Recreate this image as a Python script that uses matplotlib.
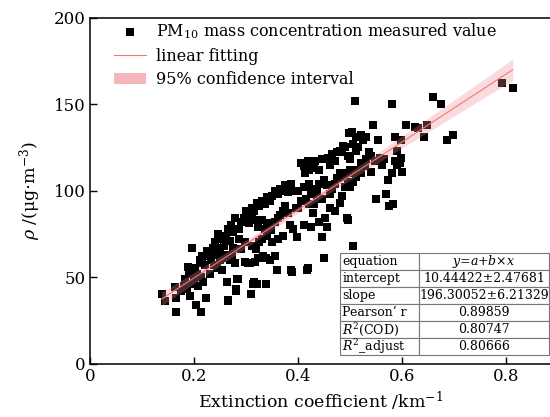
import matplotlib.pyplot as plt
import numpy as np

plt.rcParams['font.family'] = 'DejaVu Serif'
plt.rcParams['mathtext.fontset'] = 'dejavuserif'

# extinction coefficient (km^-1) and PM10 mass concentration (ug/m3)
ext = [0.137, 0.143, 0.164, 0.163, 0.165, 0.174, 0.182, 0.185, 0.191, 0.203, 0.212, 0.222,
       0.195, 0.188, 0.201, 0.21, 0.215, 0.2, 0.207, 0.217, 0.205, 0.212, 0.19, 0.196, 0.22,
       0.225, 0.214, 0.18,
       0.226, 0.236, 0.246, 0.249, 0.252, 0.262, 0.265, 0.28, 0.282, 0.278, 0.274, 0.278,
       0.24, 0.245, 0.255, 0.26, 0.265, 0.27, 0.268, 0.275, 0.285, 0.29, 0.295, 0.3, 0.232,
       0.238, 0.243, 0.23, 0.258, 0.262, 0.268, 0.272, 0.228, 0.234, 0.29, 0.297, 0.285,
       0.256, 0.247, 0.25, 0.297, 0.307, 0.316, 0.323, 0.265, 0.279, 0.284, 0.309, 0.315,
       0.3, 0.31, 0.315, 0.32, 0.325, 0.33, 0.335, 0.34, 0.345, 0.35, 0.355, 0.36, 0.365,
       0.37, 0.375, 0.38, 0.385, 0.39, 0.3, 0.305, 0.31, 0.318, 0.322, 0.33, 0.335, 0.34,
       0.348, 0.355, 0.36, 0.365, 0.37, 0.375, 0.38, 0.384, 0.39, 0.397, 0.395,
       0.303, 0.313, 0.32, 0.337, 0.332, 0.338, 0.345, 0.355, 0.358, 0.385, 0.35, 0.36,
       0.37, 0.325, 0.33, 0.34, 0.31, 0.318, 0.387, 0.416,
       0.405, 0.41, 0.418, 0.425, 0.432, 0.413, 0.42, 0.43, 0.44, 0.445, 0.457, 0.465,
       0.475, 0.483, 0.47, 0.46, 0.48, 0.486, 0.498,
       0.4, 0.41, 0.42, 0.425, 0.43, 0.435, 0.44, 0.45, 0.455, 0.46, 0.465, 0.47, 0.475,
       0.48, 0.483, 0.49, 0.495, 0.5, 0.445, 0.415, 0.42, 0.405, 0.4, 0.43, 0.435,
       0.427, 0.424, 0.445, 0.454, 0.451, 0.41, 0.44, 0.493, 0.47, 0.48, 0.46, 0.45,
       0.418, 0.505, 0.496,
       0.509, 0.579, 0.544, 0.502, 0.51, 0.52, 0.525, 0.53, 0.552, 0.586, 0.598, 0.505,
       0.51, 0.515, 0.49, 0.495, 0.5, 0.557, 0.535, 0.54, 0.548, 0.56, 0.565, 0.589,
       0.597, 0.589, 0.6, 0.579, 0.573, 0.55, 0.568, 0.574, 0.582, 0.539, 0.528, 0.499,
       0.483, 0.51, 0.515, 0.52, 0.5, 0.49, 0.495, 0.505, 0.52, 0.53, 0.585, 0.595,
       0.607, 0.624, 0.63, 0.648, 0.641, 0.685, 0.698, 0.658, 0.675, 0.791, 0.812]

pm10 = [40, 36, 30, 44, 38, 42, 49, 43, 39, 34, 30, 38,
        67, 56, 55, 60, 62, 48, 45, 47, 52, 50, 52, 46, 57,
        65, 58, 45,
        65, 67, 75, 60, 54, 47, 36, 42, 49, 58, 67, 84,
        70, 66, 72, 74, 78, 80, 71, 76, 78, 82, 84, 88, 60,
        57, 55, 52, 63, 61, 60, 62, 62, 64, 66, 70, 72,
        68, 63, 67, 59, 58, 59, 61, 37, 43, 49, 40, 47,
        86, 90, 88, 93, 91, 94, 92, 96, 94, 97, 100, 98, 101,
        100, 103, 99, 104, 100, 83, 81, 85, 83, 79, 83, 78, 81,
        77, 82, 84, 86, 88, 91, 87, 80, 78, 73, 90,
        58, 46, 46, 46, 62, 61, 60, 62, 54, 54, 70, 72,
        74, 70, 72, 74, 68, 66, 53, 54,
        116, 114, 117, 116, 117, 110, 112, 113, 112, 118, 119, 121,
        122, 122, 117, 115, 123, 126, 133,
        100, 102, 104, 100, 98, 101, 104, 106, 103, 98, 101, 104, 107,
        110, 97, 102, 105, 102, 95, 95, 92, 94, 90, 92, 96,
        87, 79, 73, 79, 84, 80, 82, 84, 88, 93, 90, 61,
        55, 68, 83,
        152, 150, 138, 134, 131, 132, 129, 131, 129, 131, 129, 127,
        123, 125, 125, 120, 118, 119, 122, 120, 117, 115, 118, 123,
        119, 115, 111, 110, 106, 95, 98, 91, 92, 111, 114, 102,
        97, 108, 112, 110, 112, 108, 110, 105, 116, 118, 117, 116,
        138, 137, 136, 138, 131, 129, 132, 154, 150, 162, 159]

# fit results printed in the reference table
intercept = 10.44422
slope = 196.30052
labels_left = ['equation', 'intercept', 'slope', 'Pearson\u2019 r', r'$R^2$(COD)', r'$R^2$_adjust']
labels_right = [r'$y$=$a$+$b$$\times$$x$', '10.44422\u00b12.47681', '196.30052\u00b16.21329',
                '0.89859', '0.80747', '0.80666']

x = np.array(ext)
y = np.array(pm10)
n = len(x)
resid = y - (intercept + slope * x)
s2 = np.sum(resid ** 2) / (n - 2)
sxx = np.sum((x - x.mean()) ** 2)
xf = np.linspace(x.min(), x.max(), 100)
yf = intercept + slope * xf
ci = 1.97 * np.sqrt(s2 * (1 / n + (xf - x.mean()) ** 2 / sxx))

fig = plt.figure(figsize=(5.5, 4.17), dpi=100)
ax = fig.add_axes([0.1645, 0.128, 0.8355, 0.83])

ax.scatter(x, y, marker='s', s=30, c='black', linewidths=0, zorder=2,
           label=r'PM$_{10}$ mass concentration measured value')
ax.plot(xf, yf, color='#f07878', lw=0.8, zorder=4, label='linear fitting')
ax.fill_between(xf, yf - ci, yf + ci, color='#f08890', alpha=0.3, lw=0, zorder=3,
                label='95% confidence interval')

ax.set_xlim(0, 0.8837)
ax.set_ylim(0, 200)
ax.set_xticks([0, 0.2, 0.4, 0.6, 0.8])
ax.set_xticklabels(['0', '0.2', '0.4', '0.6', '0.8'])
ax.set_yticks([0, 50, 100, 150, 200])
ax.tick_params(direction='in', length=5, width=1, labelsize=12)
ax.spines['right'].set_visible(False)
for sp in ['left', 'bottom', 'top']:
    ax.spines[sp].set_linewidth(1.1)

ax.set_xlabel(r'Extinction coefficient /km$^{-1}$', fontsize=12.5, labelpad=3)
ax.set_ylabel(r'$\rho$ /(μg$\cdot$m$^{-3}$)', fontsize=12.5, labelpad=8)

leg = ax.legend(loc='upper left', bbox_to_anchor=(0.02, 1.03), frameon=False, fontsize=11.5,
                handlelength=2.0, labelspacing=0.4, handletextpad=0.6)
leg.legend_handles[2].set_alpha(0.6)

tab = ax.table(cellText=[[l, r] for l, r in zip(labels_left, labels_right)],
               colWidths=[79 / 209, 130 / 209],
               bbox=[0.543, 0.0246, 0.455, 0.295], zorder=5)
tab.auto_set_font_size(False)
for (r, c), cell in tab.get_celld().items():
    cell.set_edgecolor('#777777')
    cell.set_linewidth(0.8)
    cell.set_facecolor('white')
    cell.get_text().set_fontsize(9)
    if c == 0:
        cell.get_text().set_ha('left')
        cell.PAD = 0.03
    else:
        cell.get_text().set_ha('center')

fig.savefig('out.png', dpi=100)
